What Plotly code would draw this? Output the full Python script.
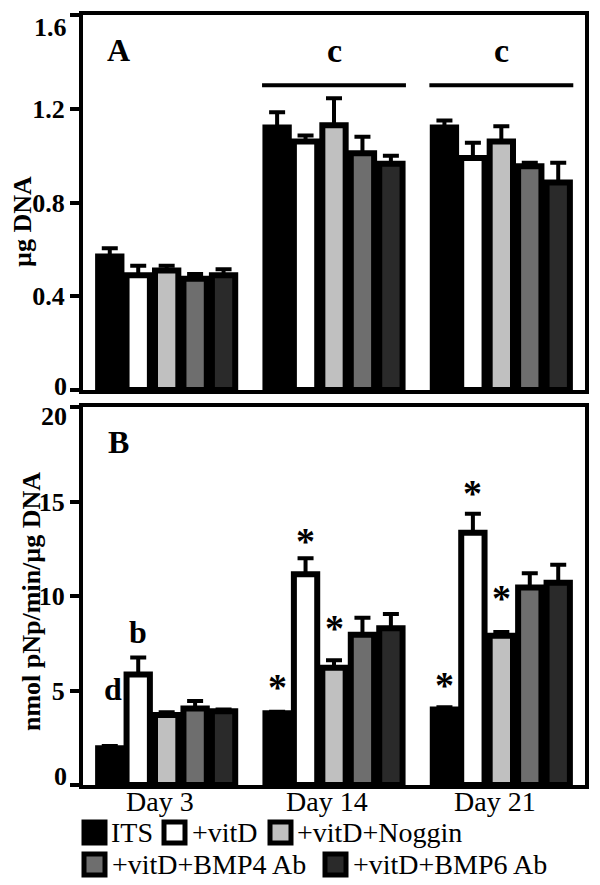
import plotly.graph_objects as go
from plotly.subplots import make_subplots

# ---------------- data ----------------
days = ["Day 3", "Day 14", "Day 21"]
x_pos = [0, 1, 2]
groups = ["ITS", "+vitD", "+vitD+Noggin", "+vitD+BMP4 Ab", "+vitD+BMP6 Ab"]
colors = ["#000000", "#ffffff", "#c0c0c0", "#6e6e6e", "#2a2a2a"]

# Panel A: ug DNA
dna_its = [0.57, 1.12, 1.12]
dna_vitd = [0.49, 1.06, 0.99]
dna_noggin = [0.51, 1.13, 1.06]
dna_bmp4 = [0.475, 1.01, 0.955]
dna_bmp6 = [0.49, 0.965, 0.885]
dna_its_err = [0.035, 0.065, 0.03]
dna_vitd_err = [0.04, 0.026, 0.065]
dna_noggin_err = [0.02, 0.115, 0.065]
dna_bmp4_err = [0.02, 0.07, 0.015]
dna_bmp6_err = [0.025, 0.035, 0.085]

# Panel B: nmol pNp/min/ug DNA
alp_its = [1.95, 3.8, 4.0]
alp_vitd = [5.85, 11.15, 13.35]
alp_noggin = [3.7, 6.2, 7.9]
alp_bmp4 = [4.05, 7.95, 10.45]
alp_bmp6 = [3.9, 8.3, 10.7]
alp_its_err = [0.12, 0.08, 0.12]
alp_vitd_err = [0.9, 0.85, 1.0]
alp_noggin_err = [0.15, 0.4, 0.2]
alp_bmp4_err = [0.4, 0.9, 0.75]
alp_bmp6_err = [0.1, 0.75, 0.95]

dna_vals = [dna_its, dna_vitd, dna_noggin, dna_bmp4, dna_bmp6]
dna_errs = [dna_its_err, dna_vitd_err, dna_noggin_err, dna_bmp4_err, dna_bmp6_err]
alp_vals = [alp_its, alp_vitd, alp_noggin, alp_bmp4, alp_bmp6]
alp_errs = [alp_its_err, alp_vitd_err, alp_noggin_err, alp_bmp4_err, alp_bmp6_err]

dna_ticks = [0, 0.4, 0.8, 1.2, 1.6]
dna_ticktext = ["0", "0.4", "0.8", "1.2", "1.6"]
alp_ticks = [0, 5, 10, 15, 20]
alp_ticktext = ["0", "5", "10", "15", "20"]

# significance marks (panel B)
star_day = [1, 1, 1, 2, 2, 2]
star_group = [0, 1, 2, 0, 1, 2]
star_y = [5.2, 12.9, 8.3, 5.3, 15.45, 9.9]

# ---------------- figure ----------------
# page body has an 8px default margin: size the figure so it ends at 600x885
OFF = 8
W, H = 600 - OFF, 885 - OFF
FONT = "Liberation Serif"

def px_x(p):
    return (p - OFF) / W

def px_y(p):
    return 1 - (p - OFF) / H

fig = make_subplots(rows=2, cols=1)

for i, g in enumerate(groups):
    fig.add_trace(go.Bar(
        x=x_pos, y=dna_vals[i], name=g,
        marker=dict(color=colors[i], line=dict(color="black", width=6)),
        error_y=dict(type="data", symmetric=False, array=dna_errs[i],
                     arrayminus=[0] * len(x_pos), color="black",
                     thickness=4, width=8),
        showlegend=False,
    ), row=1, col=1)
    fig.add_trace(go.Bar(
        x=x_pos, y=alp_vals[i], name=g,
        marker=dict(color=colors[i], line=dict(color="black", width=6)),
        error_y=dict(type="data", symmetric=False, array=alp_errs[i],
                     arrayminus=[0] * len(x_pos), color="black",
                     thickness=4, width=8),
        showlegend=False,
    ), row=2, col=1)

axis_common = dict(showline=True, linecolor="black", linewidth=4, mirror=True,
                   showgrid=False, zeroline=False, automargin=False)
tick_font = dict(family=FONT, size=26, color="black", weight="bold")

# end-of-range tick labels are drawn nudged (as in the original figure)
def inner_text(texts):
    return [""] + texts[1:-1] + [""]

fig.update_layout(
    width=W, height=H,
    margin=dict(l=0, r=0, t=0, b=0),
    paper_bgcolor="white", plot_bgcolor="white",
    barmode="group", bargap=0.15, bargroupgap=0.18,
    font=dict(family=FONT, color="black"),
    xaxis=dict(domain=[px_x(83), px_x(585)], range=[-0.5, 2.5],
               tickvals=x_pos, showticklabels=False, ticks="", **axis_common),
    yaxis=dict(domain=[px_y(390), px_y(15)], range=[0, 1.6],
               tickvals=dna_ticks, ticktext=inner_text(dna_ticktext), ticks="outside",
               ticklen=9, tickwidth=4, tickcolor="black", ticklabeloverflow="allow",
               tickfont=tick_font, **axis_common),
    xaxis2=dict(domain=[px_x(83), px_x(585)], range=[-0.5, 2.5],
                tickvals=x_pos, showticklabels=False, ticks="",
                **axis_common),
    yaxis2=dict(domain=[px_y(785), px_y(407)], range=[0, 20],
                tickvals=alp_ticks, ticktext=inner_text(alp_ticktext), ticks="outside",
                ticklen=9, tickwidth=4, tickcolor="black", ticklabeloverflow="allow",
                tickfont=tick_font, **axis_common),
)

annotations = []
bold = dict(family=FONT, color="black", weight="bold")
center = dict(xanchor="center", yanchor="middle", showarrow=False)

# end tick labels
end_labels = [
    ("y", dna_ticks[0], dna_ticktext[0], 4),
    ("y", dna_ticks[-1], dna_ticktext[-1], -12),
    ("y2", alp_ticks[0], alp_ticktext[0], 9),
    ("y2", alp_ticks[-1], alp_ticktext[-1], -9),
]
for yref, val, txt, shift in end_labels:
    annotations.append(dict(text=txt, x=px_x(69), y=val, xref="paper", yref=yref,
                            xanchor="right", yanchor="middle", yshift=shift,
                            showarrow=False, font=tick_font))

# axis titles
annotations.append(dict(text="µg DNA", x=px_x(22), y=px_y(222), xref="paper", yref="paper",
                        textangle=-90, font=dict(size=26, **bold), **center))
annotations.append(dict(text="nmol pNp/min/µg DNA", x=px_x(31), y=px_y(602), xref="paper",
                        yref="paper", textangle=-90, font=dict(size=26, **bold), **center))
# category labels under the bottom panel
for d, lab in zip(x_pos, days):
    annotations.append(dict(text=lab, x=d - 0.04, y=px_y(801), xref="x2", yref="paper",
                            font=dict(family=FONT, size=28, color="black"), **center))
# panel labels
annotations.append(dict(text="A", x=-0.29, y=1.45, xref="x", yref="y",
                        font=dict(size=32, **bold), **center))
annotations.append(dict(text="B", x=-0.29, y=18.15, xref="x2", yref="y2",
                        font=dict(size=32, **bold), **center))
# "c" over Day 14 and Day 21
for d in [1, 2]:
    annotations.append(dict(text="c", x=d, y=1.45, xref="x", yref="y",
                            font=dict(size=34, **bold), **center))
    fig.add_shape(type="line", x0=d - 0.43, x1=d + 0.43, y0=1.30, y1=1.30,
                  xref="x", yref="y", line=dict(color="black", width=4))

slot = 0.85 / 5
annotations.append(dict(text="d", x=-2 * slot + 0.02, y=5.1, xref="x2", yref="y2",
                        font=dict(size=32, **bold), **center))
annotations.append(dict(text="b", x=-1 * slot, y=8.1, xref="x2", yref="y2",
                        font=dict(size=32, **bold), **center))
for d, gi, yy in zip(star_day, star_group, star_y):
    annotations.append(dict(text="*", x=d + (gi - 2) * slot, y=yy, xref="x2", yref="y2",
                            font=dict(size=38, **bold), **center))

# legend (drawn manually)
leg_rows = [0, 0, 0, 1, 1]
leg_sq_x = [82, 162, 268, 82, 323]
leg_txt_x = [109, 190, 295, 110, 351]
row_y = [820, 852]
sq = 25
for i, g in enumerate(groups):
    y0 = row_y[leg_rows[i]]
    fig.add_shape(type="rect", xref="paper", yref="paper",
                  x0=px_x(leg_sq_x[i] + 2), x1=px_x(leg_sq_x[i] + sq - 2),
                  y0=px_y(y0 + sq - 2), y1=px_y(y0 + 2),
                  fillcolor=colors[i], line=dict(color="black", width=5))
    annotations.append(dict(text=g, x=px_x(leg_txt_x[i]), y=px_y(y0 + sq / 2),
                            xref="paper", yref="paper", xanchor="left", yanchor="middle",
                            showarrow=False, font=dict(family=FONT, size=28, color="black")))

fig.update_layout(annotations=annotations)
fig.write_html("out.html")
